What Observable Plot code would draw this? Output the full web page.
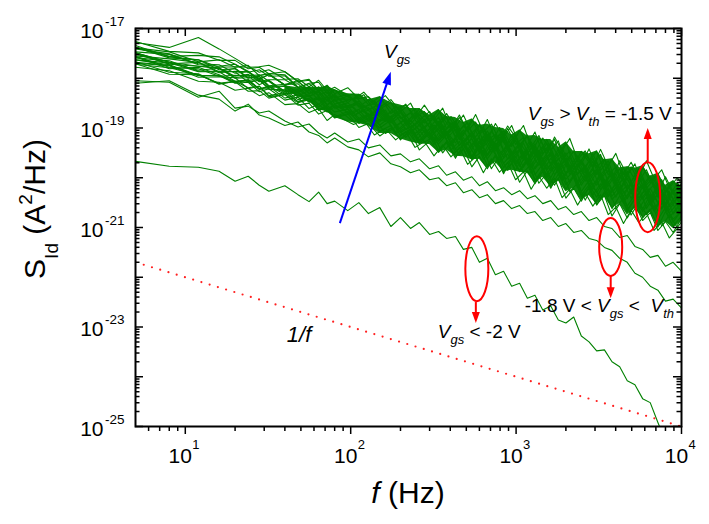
<!DOCTYPE html>
<html><head><meta charset="utf-8">
<script src="https://cdn.jsdelivr.net/npm/d3@7"></script>
<script src="https://cdn.jsdelivr.net/npm/@observablehq/plot@0.6"></script>
<style>
html,body{margin:0;padding:0;background:#fff}
svg text{white-space:pre}
</style>
</head><body><div id="chart"></div>
<script>
// ---------------- data (log10 of S_Id in A^2/Hz) ----------------
// two frequency grids (Hz): the spectra are sampled on interleaved bins
const freqA = [5, 8, 12, 16, 20, 24, 28, 32, 40, 48, 56, 64, 72, 80, 96, 112, 128, 150, 175, 200, 230, 260, 300, 340, 380, 430, 480, 540, 600, 670, 750, 840, 940, 1050, 1170, 1300, 1450, 1620, 1800, 2000, 2230, 2480, 2760, 3070, 3420, 3800, 4230, 4700, 5230, 5820, 6470, 7200, 8000, 8900, 10000];
const freqB = [5, 8, 12, 16, 20, 24, 28, 32, 40, 48, 56, 64, 72, 80, 104, 120, 139, 162, 187, 215, 245, 279, 319, 360, 404, 454, 509, 569, 634, 709, 794, 889, 993, 1108, 1233, 1373, 1533, 1708, 1897, 2112, 2352, 2616, 2911, 3240, 3605, 4009, 4459, 4958, 5517, 6137, 6825, 7589, 8438, 9434, 10550];

// Vgs > Vth = -1.5 V (upper bundle)
const band1 = [-17.26,-17.46,-17.49,-17.64,-17.64,-17.81,-17.78,-17.91,-17.87,-18.06,-18.02,-18.24,-18.14,-18.31,-18.19,-18.41,-18.37,-18.59,-18.43,-18.67,-18.50,-18.84,-18.67,-18.97,-18.71,-18.98,-18.74,-19.10,-18.95,-19.25,-18.91,-19.19,-18.95,-19.35,-19.14,-19.51,-19.20,-19.45,-19.26,-19.69,-19.46,-19.73,-19.42,-19.79,-19.62,-20.03,-19.66,-19.95,-19.72,-20.15,-19.96,-20.29,-19.98,-20.29,-20.12];
const band2 = [-17.28,-17.38,-17.18,-17.41,-17.60,-17.76,-17.88,-17.83,-18.02,-18.01,-18.17,-18.04,-18.25,-18.18,-18.42,-18.28,-18.52,-18.35,-18.60,-18.54,-18.80,-18.54,-18.83,-18.60,-19.01,-18.79,-19.03,-18.73,-19.08,-18.92,-19.25,-18.96,-19.18,-18.95,-19.38,-19.15,-19.52,-19.18,-19.46,-19.21,-19.63,-19.46,-19.78,-19.43,-19.77,-19.51,-19.94,-19.69,-19.99,-19.66,-20.02,-19.84,-20.21,-20.00,-20.22];
const band3 = [-17.39,-17.47,-17.67,-17.63,-17.78,-17.74,-17.95,-17.91,-17.93,-18.18,-18.11,-18.26,-18.16,-18.40,-18.32,-18.58,-18.43,-18.62,-18.49,-18.81,-18.70,-18.96,-18.74,-18.97,-18.77,-19.17,-18.95,-19.19,-18.92,-19.24,-19.13,-19.45,-19.14,-19.38,-19.16,-19.57,-19.37,-19.72,-19.42,-19.66,-19.47,-19.88,-19.67,-19.94,-19.64,-19.99,-19.82,-20.23,-19.95,-20.22,-19.98,-20.39,-20.18,-20.44,-20.22];
const band4 = [-17.34,-17.57,-17.63,-17.78,-17.77,-17.78,-17.77,-17.74,-17.87,-18.07,-18.23,-18.19,-18.37,-18.24,-18.43,-18.33,-18.65,-18.50,-18.71,-18.52,-18.78,-18.67,-19.01,-18.79,-19.02,-18.74,-19.06,-18.88,-19.27,-19.06,-19.30,-19.01,-19.33,-19.19,-19.51,-19.21,-19.46,-19.23,-19.64,-19.46,-19.79,-19.52,-19.76,-19.53,-19.94,-19.78,-20.09,-19.78,-20.07,-19.84,-20.20,-20.04,-20.37,-20.10,-20.32];
const band5 = [-17.47,-17.52,-17.71,-17.73,-17.90,-17.87,-18.01,-17.93,-18.13,-18.11,-18.32,-18.17,-18.39,-18.35,-18.57,-18.46,-18.63,-18.52,-18.87,-18.69,-18.92,-18.72,-18.99,-18.78,-19.15,-18.97,-19.30,-19.09,-19.31,-19.06,-19.35,-19.11,-19.51,-19.30,-19.51,-19.32,-19.77,-19.53,-19.78,-19.50,-19.84,-19.66,-20.06,-19.84,-20.12,-19.88,-20.12,-19.87,-20.28,-20.14,-20.43,-20.13,-20.44,-20.26,-20.51];
const band6 = [-17.38,-17.59,-17.63,-17.83,-17.81,-18.00,-17.94,-17.91,-18.14,-18.28,-18.18,-18.34,-18.27,-18.52,-18.41,-18.60,-18.45,-18.74,-18.64,-18.91,-18.69,-18.90,-18.75,-19.09,-18.91,-19.23,-18.97,-19.18,-18.98,-19.36,-19.18,-19.40,-19.17,-19.57,-19.33,-19.61,-19.30,-19.64,-19.48,-19.88,-19.64,-19.91,-19.61,-19.94,-19.76,-20.16,-19.89,-20.17,-19.89,-20.21,-20.04,-20.42,-20.19,-20.45,-20.22];
const band7 = [-17.55,-17.61,-17.68,-17.87,-17.80,-17.99,-17.96,-18.15,-18.12,-18.07,-18.04,-18.25,-18.46,-18.36,-18.56,-18.50,-18.79,-18.67,-18.86,-18.68,-19.01,-18.87,-19.16,-18.92,-19.13,-18.95,-19.31,-19.13,-19.46,-19.17,-19.42,-19.21,-19.56,-19.43,-19.74,-19.44,-19.72,-19.48,-19.89,-19.70,-19.96,-19.66,-19.99,-19.83,-20.22,-19.99,-20.27,-20.01,-20.31,-20.16,-20.55,-20.31,-20.58,-20.29,-20.59];
const band8 = [-17.49,-17.72,-17.76,-17.80,-17.96,-17.92,-18.07,-18.05,-18.26,-18.23,-18.36,-18.28,-18.53,-18.42,-18.42,-18.68,-18.59,-18.86,-18.69,-18.88,-18.74,-19.10,-18.94,-19.13,-18.89,-19.18,-19.03,-19.38,-19.16,-19.41,-19.12,-19.42,-19.25,-19.65,-19.39,-19.66,-19.40,-19.72,-19.55,-19.93,-19.72,-19.98,-19.67,-20.03,-19.85,-20.21,-20.00,-20.25,-19.99,-20.30,-20.14,-20.54,-20.28,-20.57,-20.40];
const band9 = [-17.49,-17.68,-17.84,-17.80,-18.00,-17.99,-17.99,-18.17,-18.15,-18.36,-18.24,-18.44,-18.38,-18.59,-18.49,-18.70,-18.59,-18.86,-18.79,-19.03,-18.84,-19.05,-18.90,-19.27,-19.07,-19.30,-19.04,-19.35,-19.19,-19.56,-19.31,-19.59,-19.28,-19.60,-19.46,-19.82,-19.62,-19.86,-19.60,-19.92,-19.73,-20.15,-19.90,-20.15,-19.88,-20.29,-20.13,-20.42,-20.15,-20.43,-20.21,-20.50,-20.34,-20.73,-20.51];
const band10 = [-17.59,-17.65,-17.86,-17.86,-17.87,-18.08,-18.04,-18.19,-18.16,-18.38,-18.34,-18.53,-18.38,-18.58,-18.58,-18.80,-18.67,-18.87,-18.74,-19.03,-18.93,-19.18,-18.98,-19.20,-19.01,-19.35,-19.21,-19.49,-19.22,-19.49,-19.25,-19.63,-19.47,-19.79,-19.51,-19.75,-19.56,-19.94,-19.75,-20.09,-19.81,-20.07,-19.83,-20.24,-20.08,-20.39,-20.10,-20.41,-20.17,-20.62,-20.37,-20.63,-20.39,-20.69,-20.54];
const band11 = [-17.56,-17.78,-17.81,-17.96,-17.94,-17.95,-17.93,-18.06,-18.31,-18.29,-18.47,-18.39,-18.53,-18.44,-18.70,-18.63,-18.86,-18.70,-18.90,-18.77,-19.07,-18.94,-19.22,-18.98,-19.22,-19.02,-19.36,-19.22,-19.50,-19.21,-19.46,-19.24,-19.63,-19.43,-19.68,-19.42,-19.87,-19.61,-19.82,-19.64,-20.00,-19.82,-20.16,-19.88,-20.14,-19.90,-20.31,-20.15,-20.44,-20.19,-20.45,-20.25,-20.67,-20.44,-20.68];
const band12 = [-17.68,-17.74,-17.95,-17.94,-18.09,-18.03,-18.21,-18.16,-18.40,-18.33,-18.48,-18.41,-18.65,-18.53,-18.75,-18.63,-18.86,-18.80,-19.08,-18.89,-19.11,-18.97,-19.33,-19.12,-19.36,-19.12,-19.43,-19.24,-19.63,-19.41,-19.66,-19.38,-19.69,-19.53,-19.91,-19.67,-19.94,-19.66,-19.98,-19.81,-20.20,-19.98,-20.23,-19.95,-20.37,-20.20,-20.51,-20.23,-20.50,-20.28,-20.65,-20.46,-20.80,-20.59,-20.82];
const band13 = [-17.63,-17.73,-17.94,-17.95,-18.10,-18.08,-18.27,-18.21,-18.26,-18.47,-18.41,-18.64,-18.54,-18.68,-18.62,-18.91,-18.80,-19.00,-18.84,-19.15,-19.03,-19.32,-19.10,-19.32,-19.14,-19.49,-19.33,-19.64,-19.37,-19.62,-19.39,-19.80,-19.60,-19.85,-19.61,-20.05,-19.82,-20.09,-19.81,-20.14,-19.96,-20.35,-20.14,-20.39,-20.11,-20.44,-20.26,-20.68,-20.42,-20.68,-20.44,-20.84,-20.60,-20.83,-20.68];
const band14 = [-17.72,-17.79,-17.93,-18.10,-18.06,-18.19,-18.16,-18.37,-18.33,-18.49,-18.43,-18.64,-18.60,-18.80,-18.70,-18.89,-18.79,-19.11,-18.98,-19.19,-19.01,-19.28,-19.18,-19.50,-19.29,-19.54,-19.30,-19.57,-19.45,-19.82,-19.57,-19.85,-19.57,-19.89,-19.72,-20.11,-19.91,-20.15,-19.88,-20.28,-20.11,-20.45,-20.16,-20.42,-20.22,-20.59,-20.42,-20.75,-20.49,-20.74,-20.56,-20.97,-20.75,-21.00,-20.78];
const band15 = [-17.71,-17.92,-17.93,-18.11,-18.07,-18.26,-18.25,-18.40,-18.32,-18.54,-18.50,-18.72,-18.65,-18.79,-18.71,-18.99,-18.91,-19.16,-19.00,-19.22,-19.07,-19.44,-19.26,-19.49,-19.27,-19.57,-19.41,-19.78,-19.57,-19.82,-19.54,-19.88,-19.71,-20.09,-19.86,-20.12,-19.87,-20.18,-20.01,-20.41,-20.21,-20.47,-20.18,-20.54,-20.36,-20.77,-20.52,-20.81,-20.54,-20.86,-20.70,-21.06,-20.88,-21.10,-20.82];
const band16 = [-17.78,-17.85,-18.06,-18.08,-18.24,-18.20,-18.35,-18.29,-18.53,-18.51,-18.69,-18.61,-18.85,-18.73,-18.93,-18.84,-19.14,-19.01,-19.24,-19.07,-19.39,-19.27,-19.56,-19.34,-19.58,-19.39,-19.73,-19.58,-19.90,-19.62,-19.89,-19.69,-20.04,-19.88,-20.23,-19.97,-20.21,-20.01,-20.40,-20.23,-20.55,-20.30,-20.57,-20.34,-20.74,-20.59,-20.92,-20.65,-20.90,-20.71,-21.06,-20.89,-21.21,-21.02,-21.09];
const band17 = [-17.38,-17.56,-17.54,-17.57,-17.72,-17.88,-17.83,-17.96,-17.95,-18.19,-18.10,-18.08,-18.31,-18.23,-18.49,-18.32,-18.53,-18.37,-18.71,-18.59,-18.87,-18.61,-18.87,-18.63,-19.02,-18.86,-19.15,-18.82,-19.12,-18.83,-19.22,-19.06,-19.37,-19.04,-19.34,-19.08,-19.52,-19.30,-19.57,-19.28,-19.75,-19.47,-19.69,-19.46,-19.88,-19.62,-20.01,-19.78,-20.04,-19.76,-20.10,-19.91,-20.29,-20.06,-20.32];
const band18 = [-17.41,-17.51,-17.73,-17.76,-17.72,-17.86,-18.03,-17.92,-18.14,-18.04,-18.30,-18.25,-18.23,-18.46,-18.31,-18.57,-18.51,-18.77,-18.56,-18.77,-18.61,-19.01,-18.79,-19.03,-18.77,-19.05,-18.89,-19.29,-19.02,-19.30,-18.99,-19.32,-19.14,-19.51,-19.28,-19.56,-19.23,-19.60,-19.39,-19.78,-19.56,-19.82,-19.52,-19.85,-19.66,-20.08,-19.80,-20.08,-19.81,-20.15,-19.97,-20.37,-20.15,-20.43,-20.18];
const band19 = [-17.51,-17.71,-17.68,-17.89,-17.86,-17.87,-18.06,-18.03,-18.03,-18.18,-18.37,-18.26,-18.44,-18.32,-18.60,-18.51,-18.77,-18.60,-18.80,-18.65,-18.98,-18.85,-19.14,-18.87,-19.10,-18.90,-19.27,-19.08,-19.42,-19.12,-19.39,-19.14,-19.53,-19.35,-19.66,-19.37,-19.63,-19.39,-19.78,-19.61,-19.93,-19.64,-19.91,-19.69,-20.08,-19.89,-20.24,-19.96,-20.22,-20.01,-20.39,-20.21,-20.52,-20.25,-20.50];
const band20 = [-17.49,-17.68,-17.76,-17.79,-17.99,-17.95,-18.13,-18.04,-18.28,-18.25,-18.20,-18.36,-18.54,-18.44,-18.70,-18.56,-18.75,-18.64,-18.98,-18.81,-19.03,-18.82,-19.11,-18.94,-19.32,-19.07,-19.33,-19.05,-19.38,-19.20,-19.58,-19.34,-19.60,-19.30,-19.65,-19.45,-19.84,-19.64,-19.90,-19.59,-19.93,-19.77,-20.17,-19.91,-20.17,-19.92,-20.31,-20.13,-20.45,-20.16,-20.44,-20.23,-20.58,-20.40,-20.72];
const band21 = [-17.63,-17.69,-17.87,-17.87,-18.06,-18.04,-18.03,-18.22,-18.23,-18.43,-18.35,-18.58,-18.44,-18.60,-18.55,-18.85,-18.71,-18.94,-18.77,-19.09,-18.97,-19.25,-19.02,-19.26,-19.06,-19.42,-19.26,-19.57,-19.29,-19.53,-19.32,-19.71,-19.52,-19.77,-19.50,-19.94,-19.72,-20.00,-19.70,-20.03,-19.86,-20.28,-20.05,-20.30,-20.04,-20.37,-20.18,-20.57,-20.34,-20.63,-20.34,-20.67,-20.51,-20.89,-20.66];
const band22 = [-17.57,-17.81,-17.78,-17.93,-18.07,-18.03,-18.23,-18.16,-18.32,-18.27,-18.47,-18.36,-18.62,-18.53,-18.76,-18.64,-18.93,-18.74,-18.96,-18.82,-19.18,-18.99,-19.25,-18.97,-19.30,-19.10,-19.50,-19.24,-19.52,-19.22,-19.52,-19.35,-19.74,-19.48,-19.77,-19.48,-19.82,-19.65,-20.04,-19.82,-20.09,-19.79,-20.14,-19.95,-20.35,-20.10,-20.38,-20.08,-20.40,-20.22,-20.64,-20.38,-20.65,-20.40,-20.71];
const band23 = [-17.70,-17.75,-17.98,-17.97,-17.99,-18.21,-18.16,-18.35,-18.29,-18.47,-18.40,-18.63,-18.57,-18.78,-18.67,-18.87,-18.76,-19.06,-18.95,-19.24,-19.02,-19.28,-19.08,-19.45,-19.30,-19.61,-19.33,-19.59,-19.37,-19.76,-19.57,-19.92,-19.62,-19.88,-19.66,-20.05,-19.88,-20.21,-19.92,-20.23,-19.97,-20.38,-20.22,-20.55,-20.28,-20.62,-20.36,-20.64,-20.42,-20.80,-20.63,-20.99,-20.68,-20.97,-20.77];
const band24 = [-17.67,-17.88,-17.91,-18.12,-18.06,-18.06,-18.21,-18.21,-18.44,-18.38,-18.61,-18.52,-18.68,-18.57,-18.88,-18.75,-18.96,-18.78,-19.11,-19.00,-19.28,-19.05,-19.28,-19.08,-19.44,-19.27,-19.58,-19.30,-19.56,-19.33,-19.69,-19.52,-19.85,-19.53,-19.80,-19.59,-19.99,-19.78,-20.06,-19.78,-20.12,-19.94,-20.35,-20.12,-20.38,-20.10,-20.44,-20.25,-20.62,-20.39,-20.67,-20.38,-20.71,-20.52,-20.88];
// -1.8 V < Vgs < Vth (on freqA)
const mid1 = [-18.05,-18.08,-18.38,-18.26,-18.60,-18.56,-18.70,-18.66,-18.86,-18.98,-18.92,-19.10,-19.20,-19.10,-19.28,-19.22,-19.40,-19.34,-19.56,-19.52,-19.68,-19.62,-19.82,-19.76,-19.95,-19.88,-20.05,-19.98,-20.16,-20.08,-20.26,-20.20,-20.34,-20.26,-20.42,-20.36,-20.52,-20.46,-20.64,-20.58,-20.74,-20.68,-20.86,-20.80,-20.98,-21.02,-21.20,-21.16,-21.38,-21.44,-21.60,-21.56,-21.78,-21.70,-21.88];
const mid2 = [-18.10,-18.05,-18.34,-18.42,-18.66,-18.52,-18.74,-18.80,-18.95,-18.88,-19.08,-19.15,-19.30,-19.20,-19.38,-19.44,-19.58,-19.50,-19.72,-19.78,-19.90,-19.84,-20.04,-20.00,-20.16,-20.10,-20.30,-20.24,-20.40,-20.34,-20.52,-20.46,-20.62,-20.56,-20.72,-20.68,-20.86,-20.80,-20.98,-20.92,-21.10,-21.06,-21.22,-21.26,-21.40,-21.46,-21.62,-21.70,-21.92,-22.00,-22.18,-22.26,-22.48,-22.44,-22.62];
// Vgs < -2 V (on freqA)
const low1 = [-19.67,-19.77,-19.79,-19.87,-20.07,-19.97,-20.15,-20.27,-20.16,-20.34,-20.48,-20.29,-20.52,-20.47,-20.66,-20.50,-20.72,-20.60,-20.98,-20.80,-21.02,-20.90,-21.14,-21.08,-21.22,-21.18,-21.44,-21.40,-21.70,-21.62,-21.95,-21.88,-22.18,-22.12,-22.42,-22.36,-22.66,-22.58,-22.86,-22.92,-22.80,-23.18,-23.30,-23.48,-23.46,-23.70,-23.80,-24.08,-24.16,-24.44,-24.52,-24.92,-25.30,null,null];

// 1/f reference line
const refF = [5, 10000];
const refS = [2.0e-22, 1.0e-25];

// axis ticks and labels
const xMajor = [10, 100, 1000, 10000];
const xTickExp = ["1", "2", "3", "4"];
const yLabelVals = [1e-17, 1e-19, 1e-21, 1e-23, 1e-25];
const yTickExp = ["-17", "-19", "-21", "-23", "-25"];
const mantissas = [2, 3, 4, 5, 6, 7, 8, 9];
const xDecades = [1, 10, 100, 1000];
const yExponents = [-25, -24, -23, -22, -21, -20, -19, -18, -17];

// annotations (data coordinates)
const arrowF0 = [86.6, 6292, 3758, 575];
const arrowS0 = [1.2e-21, 2.04e-20, 1.05e-22, 3.1e-23];
const arrowF1 = [176, 6292, 3758, 575];
const arrowS1 = [1.32e-18, 9.8e-20, 3.7e-23, 1.17e-23];
const ellipseF = [6292, 3758, 583];
const ellipseS = [3.98e-21, 3.98e-22, 1.45e-22];
const noteF = [160, 1185, 1136, 338.6, 41.4];
const noteS = [2.5e-18, 1.41e-19, 1.95e-23, 5.9e-24, 4.9e-24];
const noteParts = [
  [["V","i"],["gs","si"]],
  [["V","i"],["gs","si"],[" > ","n"],["V","i"],["th","si"],[" = -1.5 V","n"]],
  [["-1.8 V < ","n"],["V","i"],["gs","si"],[" <  ","n"],["V","i"],["th","si"]],
  [["V","i"],["gs","si"],[" < -2 V","n"]],
  [["1/f","i"]]
];

// ---------------- styles ----------------
const FONT = "'Liberation Sans', Arial, Helvetica, sans-serif";
const GREEN = "#008000";
const arrowColor = ["#0000ff", "#ff0000", "#ff0000", "#ff0000"];
const ellipseR = [[12.5, 35], [11.5, 29], [11.5, 32.5]];
const FW = 709 - 135 - 28, FH = 524 - 28 - 98;   // frame size in px

// ---------------- tables ----------------
const bandA = [band1, band3, band5, band7, band9, band11, band13, band15, band17, band19, band21, band23];
const bandB = [band2, band4, band6, band8, band10, band12, band14, band16, band18, band20, band22, band24];
const bandAll = bandA.concat(bandB);
const seriesList = [];
bandA.forEach(v => seriesList.push([v, freqA]));
bandB.forEach(v => seriesList.push([v, freqB]));
seriesList.push([mid1, freqA], [mid2, freqA], [low1, freqA]);
const rows = [];
seriesList.forEach(([vals, fr], k) => fr.forEach((f, i) => rows.push({
  id: k, f: f, S: vals[i] == null ? NaN : Math.pow(10, vals[i])
})));
// where the many overlapping noisy traces merge into solid ink:
// between the k-th lowest and k-th highest trace (narrower where the bundle starts to thicken)
const inkRank = {40: 10, 48: 8, 56: 5, 64: 3};
const bundleRows = [];
freqA.forEach((f, i) => {
  if (f < 40) return;
  const v = bandAll.map(b => b[i]).sort((a, b) => a - b);
  const k = inkRank[f] !== undefined ? inkRank[f] : 1;
  bundleRows.push({f: f, lo: Math.pow(10, v[k]), hi: Math.pow(10, v[v.length - 1 - k])});
});
const refRows = refF.map((f, i) => ({f: f, S: refS[i]}));
const xMinor = xDecades.flatMap(d => mantissas.map(m => m * d)).filter(v => v > 5 && v < 10000);
const yMajor = yExponents.map(e => Math.pow(10, e));
const yMinor = yExponents.slice(0, -1).flatMap(e => mantissas.map(m => m * Math.pow(10, e)));

const tk = {stroke: "#000", strokeWidth: 1.5};

const plot = Plot.plot({
  width: 709, height: 524,
  marginLeft: 135, marginRight: 28, marginTop: 28, marginBottom: 98,
  style: {fontFamily: FONT, background: "#fff", color: "#000", overflow: "visible"},
  x: {type: "log", domain: [5, 10000], axis: null},
  y: {type: "log", domain: [1e-25, 1e-17], axis: null},
  marks: [
    Plot.areaY(bundleRows, {x: "f", y1: "lo", y2: "hi", fill: GREEN, fillOpacity: 0.95, clip: true}),
    Plot.line(rows, {x: "f", y: "S", z: "id", stroke: GREEN, strokeWidth: 1.1, clip: true}),
    Plot.line(refRows, {x: "f", y: "S", stroke: "#ff2020", strokeWidth: 2.2, strokeDasharray: "0 8.6", strokeLinecap: "round", clip: true}),
    // ticks: bottom outward, top/left/right inward
    Plot.ruleX(xMajor, {...tk, x: d => d, insetTop: FH, insetBottom: -8}),
    Plot.ruleX(xMinor, {...tk, x: d => d, insetTop: FH, insetBottom: -5}),
    Plot.ruleX(xMajor, {...tk, x: d => d, insetBottom: FH - 8}),
    Plot.ruleX(xMinor, {...tk, x: d => d, insetBottom: FH - 5}),
    Plot.ruleY(yMajor, {...tk, y: d => d, insetRight: FW - 8}),
    Plot.ruleY(yMinor, {...tk, y: d => d, insetRight: FW - 4.5}),
    Plot.ruleY(yMajor, {...tk, y: d => d, insetLeft: FW - 8}),
    Plot.ruleY(yMinor, {...tk, y: d => d, insetLeft: FW - 4.5}),
    Plot.frame({stroke: "#000", strokeWidth: 2}),
    Plot.text(xMajor, {x: d => d, frameAnchor: "bottom", text: () => "10", textAnchor: "middle", lineAnchor: "bottom", dx: -5, dy: 36, fontSize: 21, fill: "#000"}),
    Plot.text(xMajor, {x: d => d, frameAnchor: "bottom", text: (d, i) => xTickExp[i], textAnchor: "start", lineAnchor: "bottom", dx: 7, dy: 22, fontSize: 13, fill: "#000"}),
    Plot.text(yLabelVals, {y: d => d, frameAnchor: "left", text: () => "10", textAnchor: "end", lineAnchor: "bottom", dx: -32, dy: 9, fontSize: 21, fill: "#000"}),
    Plot.text(yLabelVals, {y: d => d, frameAnchor: "left", text: (d, i) => yTickExp[i], textAnchor: "start", lineAnchor: "bottom", dx: -30.5, dy: -3, fontSize: 13.5, fill: "#000"})
  ]
});
document.getElementById("chart").appendChild(plot);

// ---------------- annotations through the plot's scales ----------------
const sx = plot.scale("x"), sy = plot.scale("y");
const X = v => sx.apply(v), Y = v => sy.apply(v);
const svg = d3.select(plot);
const ann = svg.append("g").attr("font-family", FONT).attr("text-anchor", "start");

function richText(parent, x, y, parts, size, small, subDy, supDy) {
  const t = parent.append("text").attr("x", x).attr("y", y)
    .attr("font-size", size).attr("fill", "#000").attr("text-anchor", "start");
  let shift = 0;
  for (const [s, kind] of parts) {
    const span = t.append("tspan").text(s);
    const target = (kind === "si" || kind === "s") ? subDy : kind === "p" ? -supDy : 0;
    if (target !== shift) span.attr("dy", target - shift);
    shift = target;
    if (kind === "si" || kind === "s" || kind === "p") span.attr("font-size", small);
    if (kind === "i" || kind === "si") span.attr("font-style", "italic");
  }
  return t;
}

ellipseF.forEach((f, i) => {
  ann.append("ellipse").attr("cx", X(f)).attr("cy", Y(ellipseS[i]))
    .attr("rx", ellipseR[i][0]).attr("ry", ellipseR[i][1])
    .attr("fill", "none").attr("stroke", "#ff0000").attr("stroke-width", 2);
});

arrowF0.forEach((f, i) => {
  const x0 = X(f), y0 = Y(arrowS0[i]), x1 = X(arrowF1[i]), y1 = Y(arrowS1[i]);
  const dx = x1 - x0, dy = y1 - y0, len = Math.hypot(dx, dy);
  const ux = dx / len, uy = dy / len;
  const head = i === 0 ? 13 : 11, half = i === 0 ? 4.5 : 4;
  const bx = x1 - ux * head, by = y1 - uy * head;
  ann.append("line").attr("x1", x0).attr("y1", y0).attr("x2", bx + ux).attr("y2", by + uy)
    .attr("stroke", arrowColor[i]).attr("stroke-width", 2);
  ann.append("path")
    .attr("d", `M${x1},${y1}L${bx - uy * half},${by + ux * half}L${bx + uy * half},${by - ux * half}Z`)
    .attr("fill", arrowColor[i]);
});

noteF.forEach((f, i) => {
  richText(ann, X(f), Y(noteS[i]), noteParts[i], i === 4 ? 22 : 19, 13, 6, 8);
});

const xt = richText(ann, 0, 0, [["f", "i"], [" (Hz)", "n"]], 30, 20, 8, 12);
xt.attr("text-anchor", "middle").attr("transform", `translate(${(X(5) + X(10000)) / 2},503)`);
const yt = richText(ann, 0, 0, [["S", "n"], ["Id", "s"], [" (A", "n"], ["2", "p"], ["/Hz)", "n"]], 30, 19, 13, 13);
yt.attr("text-anchor", "middle").attr("transform", `translate(45,${(Y(1e-17) + Y(1e-25)) / 2 - 18}) rotate(-90)`);
</script>
</body></html>
